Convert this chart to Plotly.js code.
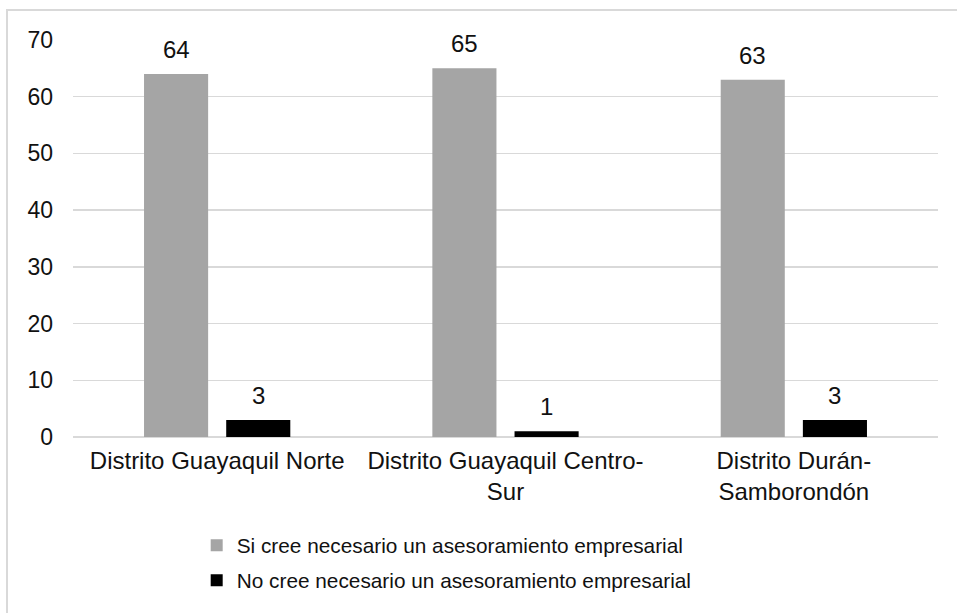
<!DOCTYPE html>
<html>
<head>
<meta charset="utf-8">
<script src="https://cdn.plot.ly/plotly-3.0.1.min.js"></script>
<style>
  html, body { margin: 0; padding: 0; background: #fff; }
  #chart { width: 957px; height: 613px; }
</style>
</head>
<body>
<div id="chart"></div>
<script>
const categories = ["Distrito Guayaquil Norte", "Distrito Guayaquil Centro-<br>Sur", "Distrito Durán-<br>Samborondón"];
const seriesNames = ["Si cree necesario un asesoramiento empresarial", "No cree necesario un asesoramiento empresarial"];
const siValues = [64, 65, 63];
const noValues = [3, 1, 3];
const seriesColors = ["#a5a5a5", "#000000"];
const yTicks = [0, 10, 20, 30, 40, 50, 60, 70];

const FONT = "Liberation Sans, Arial, sans-serif";

const traces = [
  { type: "bar", x: categories, y: siValues, name: seriesNames[0],
    marker: { color: seriesColors[0] }, legendgroup: "a", hoverinfo: "none" },
  { type: "bar", x: categories, y: noValues, name: seriesNames[1],
    marker: { color: seriesColors[1] }, legendgroup: "b", hoverinfo: "none" }
];

const annotations = [];
[siValues, noValues].forEach((vals, si) => {
  vals.forEach((v, i) => {
    annotations.push({
      x: categories[i], y: v, xref: "x", yref: "y",
      text: String(v), showarrow: false,
      xanchor: "center", yanchor: "bottom",
      xshift: si === 0 ? -41 : 41, yshift: 9,
      font: { family: FONT, size: 24, color: "#111" }
    });
  });
});

const layout = {
  width: 957, height: 613,
  margin: { l: 73, r: 19, t: 40, b: 176 },
  paper_bgcolor: "#fff", plot_bgcolor: "#fff",
  barmode: "group", bargap: 0.43, bargroupgap: 0.22,
  font: { family: FONT, color: "#111" },
  xaxis: {
    showgrid: false, showline: false, zeroline: false, ticks: "",
    tickfont: { family: FONT, size: 24, color: "#111" },
    ticklabelstandoff: 7
  },
  yaxis: {
    range: [0, 70], tickvals: yTicks, ticktext: yTicks.map(String),
    showgrid: true, gridcolor: "#d9d9d9", gridwidth: 1.5,
    zeroline: true, zerolinecolor: "#d9d9d9", zerolinewidth: 1.5,
    showline: false, ticks: "",
    tickfont: { family: FONT, size: 23, color: "#111" },
    ticklabelstandoff: 19
  },
  showlegend: true,
  legend: {
    orientation: "v", x: 0.143, xanchor: "left", y: -0.222, yanchor: "top",
    font: { family: FONT, size: 20.8, color: "#111" },
    traceorder: "grouped", tracegroupgap: 5, itemwidth: 30,
    bgcolor: "rgba(0,0,0,0)"
  },
  annotations: annotations,
  shapes: [{
    type: "rect", xref: "paper", yref: "paper",
    x0: -0.0763, x1: 1.2, y0: -0.6, y1: 1.0756,
    line: { color: "#d9d9d9", width: 2 }, fillcolor: "rgba(0,0,0,0)", layer: "below"
  }]
};

Plotly.newPlot("chart", traces, layout, { displayModeBar: false, staticPlot: true });
</script>
</body>
</html>
